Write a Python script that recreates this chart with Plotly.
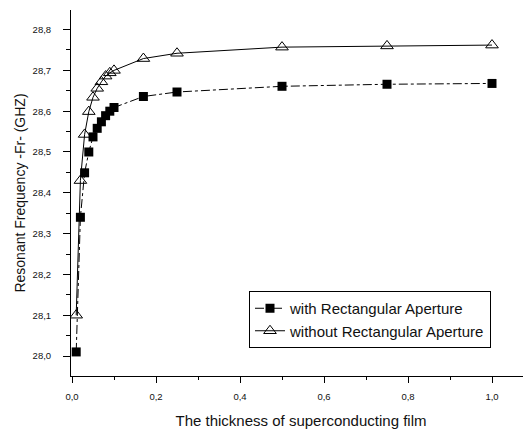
import plotly.graph_objects as go

thickness = [0.01, 0.02, 0.03, 0.04, 0.05, 0.06, 0.07, 0.08, 0.09, 0.10, 0.17, 0.25, 0.50, 0.75, 1.00]
with_aperture = [28.01, 28.34, 28.449, 28.50, 28.537, 28.558, 28.574, 28.589, 28.600, 28.609,
                 28.636, 28.647, 28.661, 28.666, 28.668]
without_aperture = [28.10, 28.43, 28.543, 28.599, 28.634, 28.656, 28.672, 28.686, 28.694, 28.70,
                    28.729, 28.742, 28.757, 28.760, 28.762]

# page has an 8px body margin, so the figure is sized/offset to compensate
W, H = 523, 424
ml, mr, mt, mb = 63, 0, 2, 56
xr = [-1 / 420, (531 - 72) / 420]
yr = [27.951, 28.848]
font = dict(family="Arial, Liberation Sans, sans-serif", color="#111")

fig = go.Figure()
fig.add_trace(go.Scatter(
    x=thickness, y=with_aperture, mode="lines+markers",
    name="with Rectangular Aperture",
    line=dict(color="black", width=1, dash="dashdot"),
    marker=dict(symbol="square", size=9, color="black"),
))
fig.add_trace(go.Scatter(
    x=thickness, y=without_aperture, mode="lines+markers",
    name="without Rectangular Aperture",
    line=dict(color="black", width=1),
    marker=dict(symbol="triangle-up-open", size=11, color="black", line=dict(width=1)),
))

fig.update_layout(
    width=W, height=H,
    margin=dict(l=ml, r=mr, t=mt, b=mb, pad=0, autoexpand=False),
    paper_bgcolor="white", plot_bgcolor="white",
    separators=",.",
    font=dict(size=11, **font),
    showlegend=True,
    legend=dict(x=(249 - 71) / 460, y=(376 - 291) / 366,
                xanchor="left", yanchor="top",
                bordercolor="black", borderwidth=1, bgcolor="white",
                font=dict(size=15, **font), tracegroupgap=0,
                itemwidth=30),
    xaxis=dict(range=xr, dtick=0.2, tick0=0, tickformat=".1f", automargin=False,
               ticks="outside", ticklen=6, tickwidth=1, tickcolor="black",
               ticklabelstandoff=6,
               minor=dict(dtick=0.1, tick0=0, ticks="outside", ticklen=3, tickcolor="black"),
               showline=True, linecolor="black", linewidth=1, showgrid=False, zeroline=False,
               tickfont=dict(size=9.5, **font),
               title=dict(text="The thickness of superconducting film", font=dict(size=15, **font), standoff=14)),
    yaxis=dict(range=yr, dtick=0.1, tick0=28.0, tickformat=".1f", automargin=False,
               ticks="outside", ticklen=7, tickwidth=1, tickcolor="black",
               ticklabelstandoff=10,
               minor=dict(dtick=0.05, tick0=28.0, ticks="outside", ticklen=4, tickcolor="black"),
               showline=True, linecolor="black", linewidth=1, showgrid=False, zeroline=False,
               tickfont=dict(size=9.5, **font),
               title=dict(text="Resonant Frequency -Fr- (GHZ)", font=dict(size=14, **font), standoff=3)),
    xaxis2=dict(range=xr, overlaying="x", side="top", anchor="y", dtick=0.2, tick0=0, automargin=False,
                ticks="inside", ticklen=6, tickcolor="black",
                minor=dict(dtick=0.1, tick0=0, ticks="inside", ticklen=3, tickcolor="black"),
                showline=True, linecolor="black", linewidth=1, showticklabels=False,
                showgrid=False, zeroline=False),
    yaxis2=dict(range=yr, overlaying="y", side="right", anchor="x", dtick=0.1, tick0=28.0, automargin=False,
                ticks="inside", ticklen=5, tickcolor="black",
                minor=dict(dtick=0.05, tick0=28.0, ticks="inside", ticklen=3, tickcolor="black"),
                showline=False, showticklabels=False, showgrid=False, zeroline=False),
)
fig.write_html("out.html")
